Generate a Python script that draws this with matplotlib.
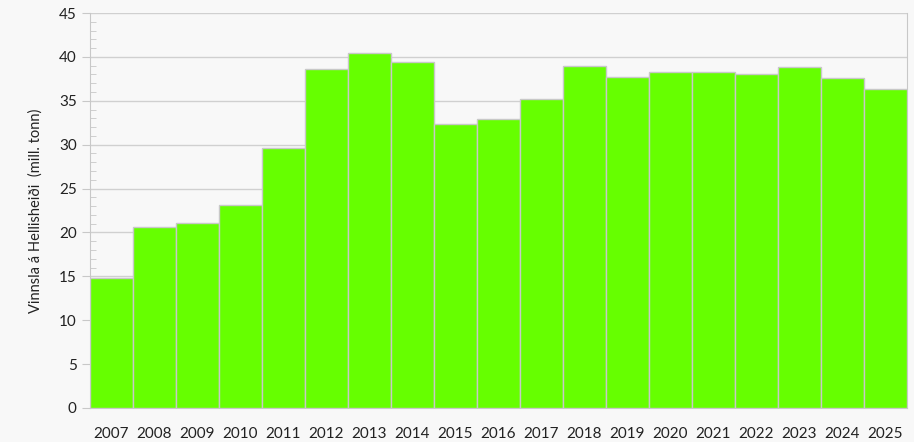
import matplotlib.pyplot as plt
from matplotlib.ticker import MultipleLocator

years = ['2007', '2008', '2009', '2010', '2011', '2012', '2013', '2014', '2015', '2016',
         '2017', '2018', '2019', '2020', '2021', '2022', '2023', '2024', '2025']
values = [14.8, 20.6, 21.1, 23.1, 29.6, 38.6, 40.5, 39.4, 32.3, 32.9,
          35.2, 38.95, 37.7, 38.3, 38.3, 38.0, 38.8, 37.6, 36.3]

plt.rcParams['font.family'] = ['Lato', 'DejaVu Sans']

bg = '#f8f8f8'
fig = plt.figure(figsize=(9.14, 4.42), dpi=100, facecolor=bg)
ax = fig.add_axes([0.0985, 0.077, 0.8935, 0.8935], facecolor=bg)

ax.bar(range(len(years)), values, width=1.0, color='#66ff00',
       edgecolor='#c8c8c8', linewidth=1.0, zorder=3)

ax.set_xlim(-0.5, len(years) - 0.5)
ax.set_ylim(0, 45)
ax.set_xticks(range(len(years)))
ax.set_xticklabels(years)
ax.yaxis.set_major_locator(MultipleLocator(5))
ax.yaxis.set_minor_locator(MultipleLocator(1))
ax.grid(axis='y', color='#d0d0d0', linewidth=1.0, zorder=0)

for s in ['left', 'right', 'top']:
    ax.spines[s].set_color('#c8c8c8')
ax.spines['bottom'].set_color('#c8c8c8')
ax.spines['top'].set_visible(False)

ax.tick_params(axis='x', length=0, pad=14, labelsize=11, colors='#222222')
ax.tick_params(axis='y', which='major', length=6, color='#c8c8c8', labelsize=11,
               labelcolor='#222222')
ax.tick_params(axis='y', which='minor', direction='in', length=4, color='#c8c8c8')
ax.set_ylabel('Vinnsla á Hellisheiði  (mill. tonn)', fontsize=10.5, color='#222222', labelpad=12)

plt.savefig('out.png', dpi=100, facecolor=bg)
